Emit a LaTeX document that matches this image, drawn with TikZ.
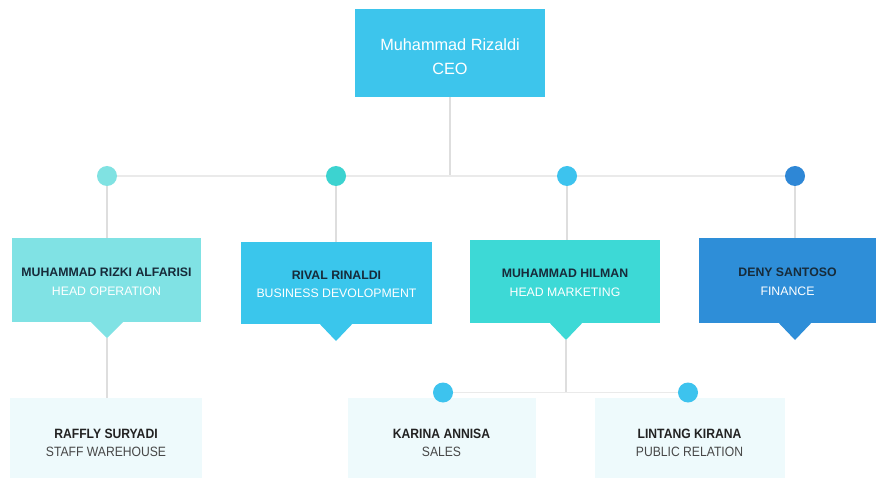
\documentclass[tikz,border=0pt]{standalone}
\usepackage{fontspec}
\setmainfont{Liberation Sans}
\newfontfamily\narrowfont[FakeStretch=0.9]{Liberation Sans}
\definecolor{ceoC}{HTML}{3DC5EC}
\definecolor{b1C}{HTML}{80E2E4}
\definecolor{b2C}{HTML}{3AC6EC}
\definecolor{b3C}{HTML}{3DD9D6}
\definecolor{b4C}{HTML}{2E8ED8}
\definecolor{c1C}{HTML}{80E2E2}
\definecolor{c2C}{HTML}{3CD3D0}
\definecolor{c3C}{HTML}{3DC3EE}
\definecolor{c4C}{HTML}{2E87D6}
\definecolor{lowC}{HTML}{EEFAFC}
\definecolor{lineC}{HTML}{DEDEDE}
\definecolor{hlineC}{HTML}{EAEAEA}
\definecolor{nameC}{HTML}{172B3A}
\definecolor{botnameC}{HTML}{222222}
\definecolor{botroleC}{HTML}{474747}
\pgfdeclarelayer{bg}
\pgfsetlayers{bg,main}
\begin{document}
\begin{tikzpicture}[x=1pt,y=-1pt,
  conn/.style={draw=lineC,line width=1.3pt},
  hconn/.style={draw=hlineC,line width=1.5pt},
  boxshape/.style={rectangle,inner sep=0pt,draw=none},
  dot/.style={circle,inner sep=0pt,minimum size=20pt,draw=none},
  nametext/.style={text=nameC,font=\fontsize{12.3}{14}\selectfont\bfseries,inner sep=0pt},
  roletext/.style={text=white,font=\fontsize{12.3}{14}\selectfont,inner sep=0pt},
  botname/.style={text=botnameC,font=\narrowfont\fontsize{13.5}{15}\selectfont\bfseries,inner sep=0pt},
  botrole/.style={text=botroleC,font=\narrowfont\fontsize{13.5}{15}\selectfont,inner sep=0pt},
  ceotext/.style={text=white,font=\fontsize{16.3}{18}\selectfont,inner sep=0pt}
]
\useasboundingbox (0,0) rectangle (877,478);

% CEO
\node[boxshape,fill=ceoC,minimum width=190pt,minimum height=88pt] (ceo) at (450,53) {};
\node[ceotext] (ceoname) at (450,45) {Muhammad Rizaldi};
\node[ceotext] (ceorole) at (450,69) {CEO};

% level 2 dots
\node[dot,fill=c1C] (c1) at (107,176) {};
\node[dot,fill=c2C] (c2) at (336,176) {};
\node[dot,fill=c3C] (c3) at (567,176) {};
\node[dot,fill=c4C] (c4) at (795,176) {};

% level 2 boxes
\node[boxshape,fill=b1C,minimum width=189pt,minimum height=84pt] (b1) at (106.5,280) {};
\node[boxshape,fill=b2C,minimum width=191pt,minimum height=82pt] (b2) at (336.5,283) {};
\node[boxshape,fill=b3C,minimum width=190pt,minimum height=83pt] (b3) at (565,281.5) {};
\node[boxshape,fill=b4C,minimum width=177pt,minimum height=85pt] (b4) at (787.5,280.5) {};

% pointers
\coordinate (t1) at (107,338);
\coordinate (t2) at (336,341);
\coordinate (t3) at (566,340);
\coordinate (t4) at (795,340);
\fill[b1C] ([xshift=-16pt]t1 |- b1.south) -- (t1) -- ([xshift=16pt]t1 |- b1.south) -- cycle;
\fill[b2C] ([xshift=-16pt]t2 |- b2.south) -- (t2) -- ([xshift=16pt]t2 |- b2.south) -- cycle;
\fill[b3C] ([xshift=-16pt]t3 |- b3.south) -- (t3) -- ([xshift=16pt]t3 |- b3.south) -- cycle;
\fill[b4C] ([xshift=-16pt]t4 |- b4.south) -- (t4) -- ([xshift=16pt]t4 |- b4.south) -- cycle;

\node[nametext] (n1) at (106.5,272) {MUHAMMAD RIZKI ALFARISI};
\node[roletext] (r1) at (106.5,291) {HEAD OPERATION};
\node[nametext] (n2) at (336.5,275) {RIVAL RINALDI};
\node[roletext] (r2) at (336.5,293) {BUSINESS DEVOLOPMENT};
\node[nametext] (n3) at (565,273) {MUHAMMAD HILMAN};
\node[roletext] (r3) at (565,292) {HEAD MARKETING};
\node[nametext] (n4) at (787.5,272) {DENY SANTOSO};
\node[roletext] (r4) at (787.5,291) {FINANCE};

% level 3
\node[boxshape,fill=lowC,minimum width=192pt,minimum height=80pt] (b5) at (106,438) {};
\node[boxshape,fill=lowC,minimum width=188pt,minimum height=80pt] (b6) at (441.5,438) {};
\node[boxshape,fill=lowC,minimum width=190pt,minimum height=80pt] (b7) at (689.5,438) {};
\node[dot,fill=c3C] (d6) at (443,392.5) {};
\node[dot,fill=c3C] (d7) at (688,392.5) {};

\node[botname] (n5) at (106,434) {RAFFLY SURYADI};
\node[botrole] (r5) at (106,452) {STAFF WAREHOUSE};
\node[botname] (n6) at (441.5,434) {KARINA ANNISA};
\node[botrole] (r6) at (441.5,452) {SALES};
\node[botname] (n7) at (689.5,434) {LINTANG KIRANA};
\node[botrole] (r7) at (689.5,452) {PUBLIC RELATION};

% connectors
\begin{pgfonlayer}{bg}
\fill[white] (0,0) rectangle (877,478);
\coordinate (top) at (ceo.south |- c1);
\draw[conn] (ceo.south) -- (top);
\draw[hconn] (c1) -- (c4);
\draw[conn] (c1) -- (c1 |- b1.north);
\draw[conn] (c2) -- (c2 |- b2.north);
\draw[conn] (c3) -- (c3 |- b3.north);
\draw[conn] (c4) -- (c4 |- b4.north);
\draw[conn] (t1) -- (t1 |- b5.north);
\coordinate (j3) at (t3 |- d6);
\draw[conn] (t3) -- (j3);
\draw[hconn] (d6) -- (d7);
\end{pgfonlayer}
\end{tikzpicture}
\end{document}
